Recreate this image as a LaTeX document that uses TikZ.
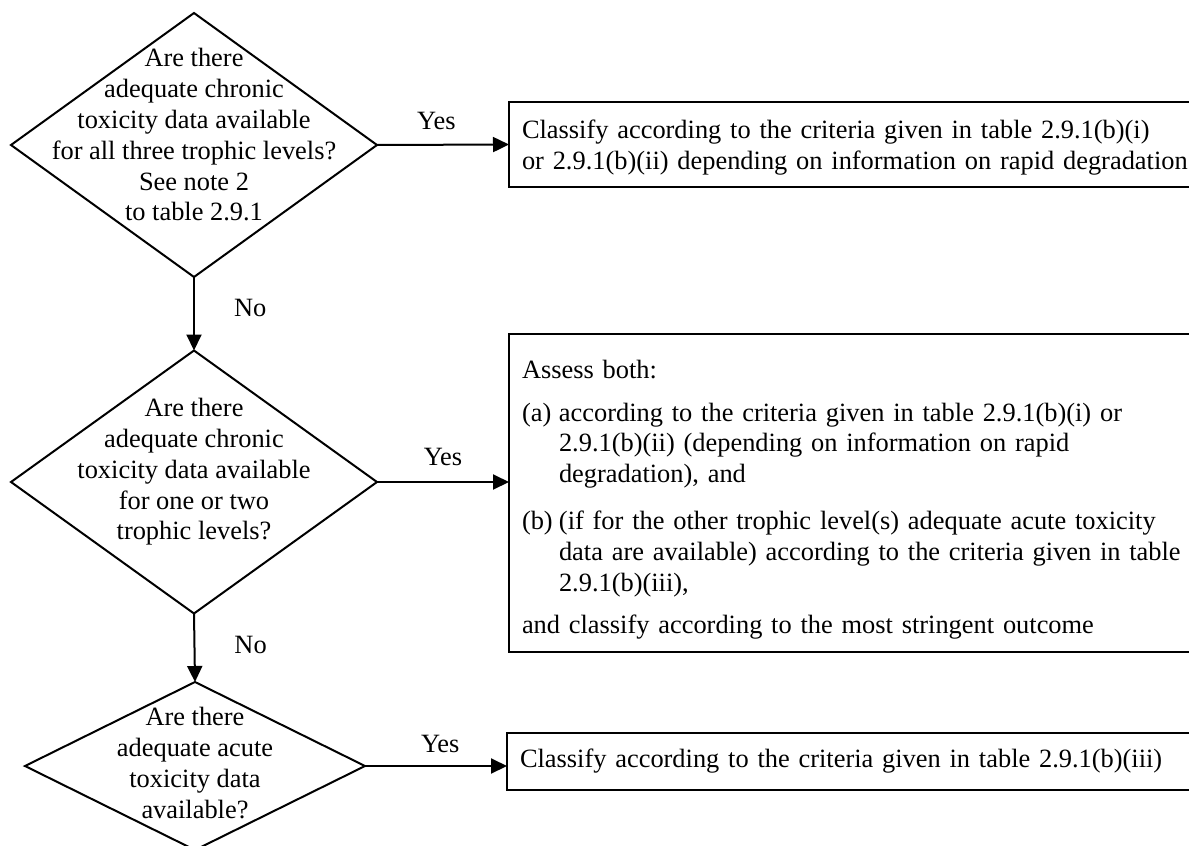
\documentclass[tikz,border=0pt]{standalone}
\usepackage{fontspec}
\setmainfont{Liberation Serif}
\usetikzlibrary{shapes.geometric}
\usetikzlibrary{arrows.meta}

\begin{document}
\begin{tikzpicture}[x=0.5pt, y=-0.5pt,
    font=\fontsize{13.2}{15.4}\selectfont,
    decision/.style={diamond, draw, line width=1pt, inner sep=0pt, outer sep=0pt},
    question/.style={align=center, inner sep=0pt},
    outcome/.style={rectangle, draw, line width=1.2pt, anchor=west, align=left,
      text width=340pt, inner xsep=6.5pt, inner ysep=0pt, outer sep=0pt},
    flow/.style={line width=1pt, -{Triangle[length=8pt,width=7.5pt]}},
    answer/.style={inner sep=0pt}]
    \useasboundingbox (0,0) rectangle (1189,846);
    \clip (0,0) rectangle (1189,846);
    % questions
    \node[decision, minimum width=183pt, minimum height=132pt,
      label={[question, yshift=5pt]center:{Are there\\adequate chronic\\toxicity data available\\for all three trophic levels?\\See note 2\\to table 2.9.1}}]
      (chronicall) at (194,145) {};
    \node[decision, minimum width=183pt, minimum height=131.5pt,
      label={[question, yshift=5pt]center:{Are there\\adequate chronic\\toxicity data available\\for one or two\\trophic levels?}}]
      (chronictwo) at (194,482) {};
    \node[decision, minimum width=170pt, minimum height=84pt,
      label={[question, yshift=1.5pt]center:{Are there\\adequate acute\\toxicity data\\available?}}]
      (acute) at (195,766) {};
    % outcomes
    \node[outcome, minimum height=42.5pt] (classifyall) at (509,144.5)
      {\rule{0pt}{12pt}Classify according to the criteria given in table 2.9.1(b)(i)\\
       or 2.9.1(b)(ii) depending on information on rapid degradation};
    \node[outcome, minimum height=159pt] (assessboth) at (509,493)
      {\rule{0pt}{16pt}Assess both:\\[6pt]
       \makebox[18.5pt][l]{(a)}according to the criteria given in table 2.9.1(b)(i) or\\
       \hspace*{18.5pt}2.9.1(b)(ii) (depending on information on rapid\\
       \hspace*{18.5pt}degradation), and\\[8pt]
       \makebox[18.5pt][l]{(b)}(if for the other trophic level(s) adequate acute toxicity\\
       \hspace*{18.5pt}data are available) according to the criteria given in table\\
       \hspace*{18.5pt}2.9.1(b)(iii),\\[6pt]
       and classify according to the most stringent outcome};
    \node[outcome, minimum height=28.5pt] (classifyacute) at (507,761.5)
      {Classify according to the criteria given in table 2.9.1(b)(iii)};
    % connectors
    \draw[flow] (chronicall.east) -- node[answer, above=7pt, pos=0.45] {Yes} (classifyall.west);
    \draw[flow] (chronicall.south) -- node[answer, right=19.5pt, pos=0.42] {No} (chronictwo.north);
    \draw[flow] (chronictwo.east) -- node[answer, above=7.5pt, pos=0.5] {Yes} (chronictwo.east -| assessboth.west);
    \draw[flow] (chronictwo.south) -- node[answer, right=19.5pt, pos=0.46] {No} (acute.north);
    \draw[flow] (acute.east) -- node[answer, above=6pt, pos=0.53] {Yes} (acute.east -| classifyacute.west);
\end{tikzpicture}
\end{document}
